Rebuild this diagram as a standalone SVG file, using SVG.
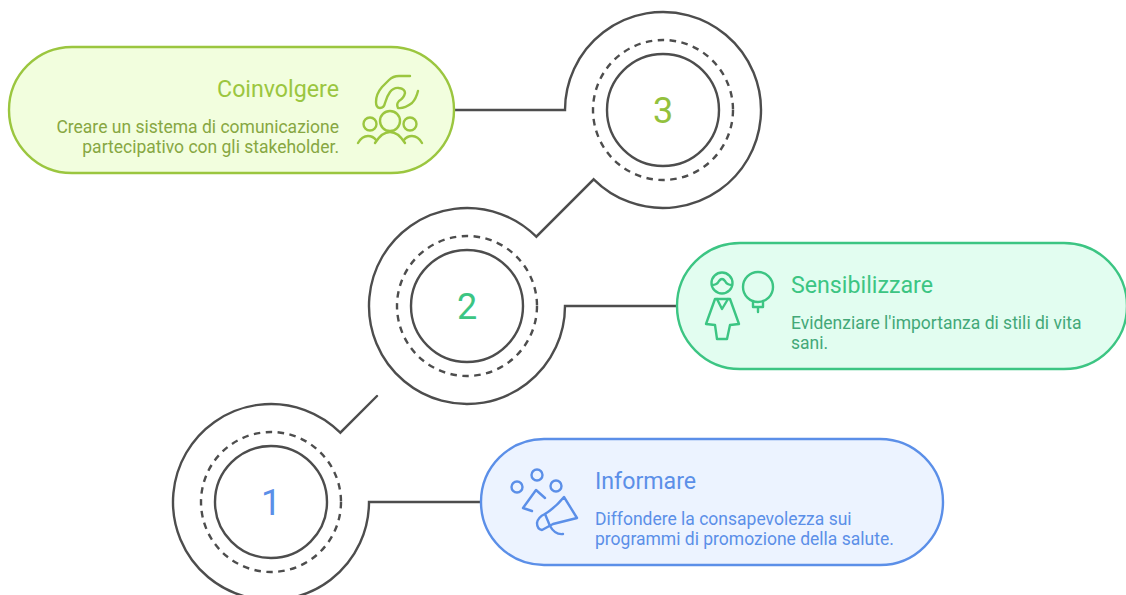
<svg xmlns="http://www.w3.org/2000/svg" width="1126" height="595" viewBox="0 0 1126 595">
<style>
.c{fill:none;stroke:#4d4d4d;stroke-width:2.4;stroke-linecap:round;stroke-linejoin:miter}
.d{stroke-dasharray:6.5 5.5;stroke-linecap:butt}
.t{font-family:"Roboto","Liberation Sans",sans-serif;font-size:23.2px}
.b{font-family:"Roboto","Liberation Sans",sans-serif;font-size:17.5px}
.n{font-family:"Roboto","Liberation Sans",sans-serif;font-size:36px;text-anchor:middle}
.i{fill:none;stroke-width:2.4;stroke-linecap:round;stroke-linejoin:round}
</style>
<rect width="1126" height="595" fill="#fff"/>
<g id="connectors">
<path class="c" d="M454 110H565A98 98 0 1 1 593.7 179.3L536.3 236.7A98 98 0 1 0 565 306H677"/>
<path class="c" d="M377 396L340.3 432.7A98 98 0 1 0 369 502H481"/>
</g>
<g id="step-3">
<circle class="c d" cx="663" cy="110" r="70"/><circle class="c" cx="663" cy="110" r="56"/>
<text class="n" x="663" y="123" fill="#93c13d">3</text>
</g>
<g id="step-2">
<circle class="c d" cx="467" cy="306" r="70"/><circle class="c" cx="467" cy="306" r="56"/>
<text class="n" x="467" y="319" fill="#3cc583">2</text>
</g>
<g id="step-1">
<circle class="c d" cx="271" cy="502" r="70"/><circle class="c" cx="271" cy="502" r="56"/>
<text class="n" x="271" y="515" fill="#5b8fe8">1</text>
</g>
<g id="coinvolgere">
<rect x="9" y="47" width="445" height="126" rx="63" fill="#f2fede" stroke="#9bc63f" stroke-width="2.4"/>
<text class="t" x="339" y="97" text-anchor="end" fill="#9bc63f">Coinvolgere</text>
<text class="b" x="339" y="133" text-anchor="end" fill="#87a742">Creare un sistema di comunicazione</text>
<text class="b" x="339" y="153" text-anchor="end" fill="#87a742">partecipativo con gli stakeholder.</text>
<g class="i" stroke="#9bc63f">
<circle cx="390" cy="121" r="10"/><circle cx="370" cy="124" r="6.5"/><circle cx="410" cy="124" r="6.5"/>
<path d="M375 143Q382 132 390 132Q398 132 405 143M358 143Q362 136 368 136Q373 136 376 140M404 140Q407 136 412 136Q418 136 422 143"/>
<path d="M410 76H399Q393 76 389 80L382 87Q376 94 376 102Q376 108 380 108Q384 108 385 103Q387 96 390 92Q394 87 399 88Q405 89 405 93Q404 98 399 101Q396 104 398 108Q404 109 412 103Q416 99 418 91"/>
</g>
</g>
<g id="sensibilizzare">
<path d="M740 243H1064A63 63 0 0 1 1127 306A63 63 0 0 1 1064 369H740A63 63 0 0 1 740 243Z" fill="#e2fdf0" stroke="#3cc583" stroke-width="2.4"/>
<text class="t" x="791" y="293" fill="#3cc583">Sensibilizzare</text>
<text class="b" x="791" y="329" fill="#43a878">Evidenziare l'importanza di stili di vita</text>
<text class="b" x="791" y="349" fill="#43a878">sani.</text>
<g class="i" stroke="#3cc583">
<circle cx="722" cy="283" r="10.5"/><path d="M712 285Q717 285 719 281Q722 277 725 281Q727 285 732 285"/>
<path d="M715 299H730L739 324L730 325L727 339H717L715 325L706 324Z"/><path d="M717 299L722 309L728 299"/>
<circle cx="758" cy="287" r="15"/><path d="M753 301V307H763V301M758 307V312"/>
</g>
</g>
<g id="informare">
<rect x="481" y="439" width="462" height="126" rx="63" fill="#ecf3ff" stroke="#5b8fe8" stroke-width="2.4"/>
<text class="t" x="595" y="489" fill="#5b8fe8">Informare</text>
<text class="b" x="595" y="525" fill="#5b8fe8">Diffondere la consapevolezza sui</text>
<text class="b" x="595" y="545" fill="#5b8fe8">programmi di promozione della salute.</text>
<g class="i" stroke="#5b8fe8">
<circle cx="517" cy="487" r="5.5"/><circle cx="537" cy="475" r="5.5"/><circle cx="556" cy="486" r="5.5"/>
<path d="M532 511L523 508L536 490L545 498"/>
<path d="M564 497L577 518L553 524L542 530Q537 529 537 523Q538 517 545 514Q556 507 564 497Z"/>
<path d="M545 514L550 526Q555 535 563 534"/>
</g>
</g>
</svg>
